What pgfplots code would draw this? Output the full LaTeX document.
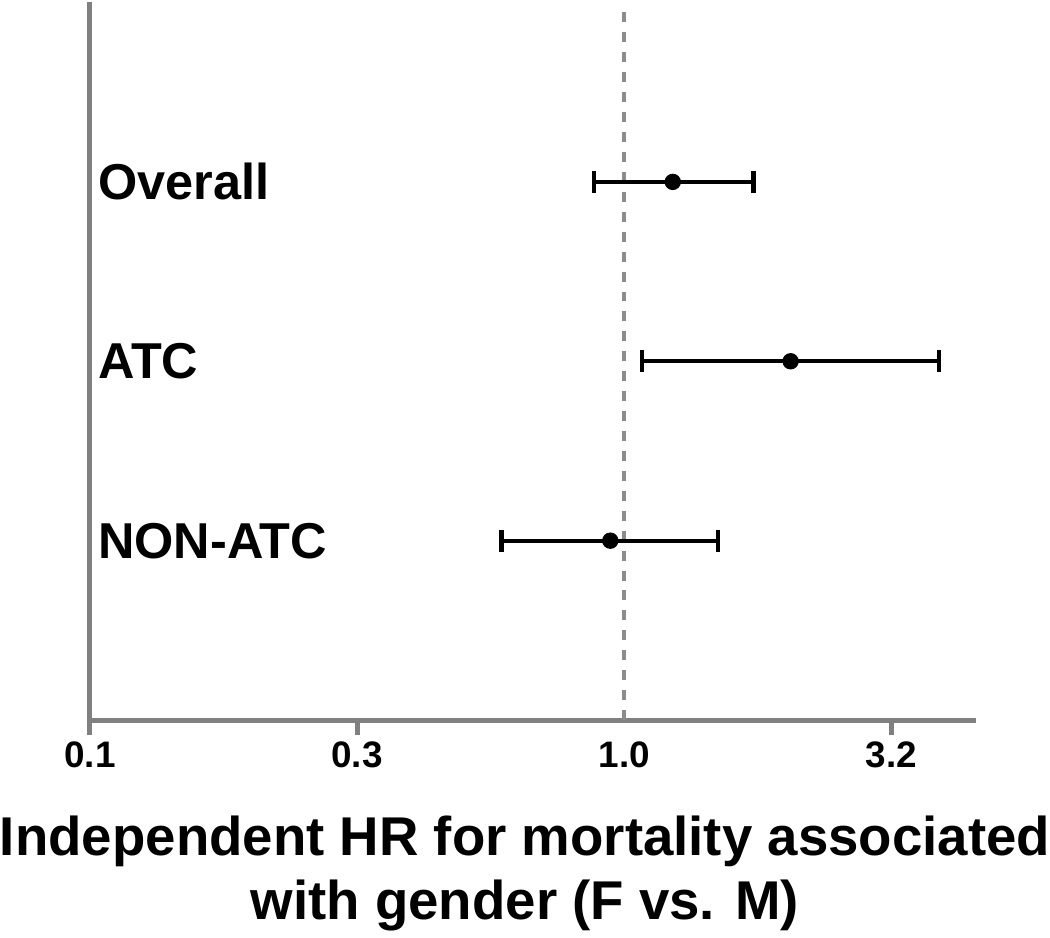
\documentclass[border=0pt]{standalone}
\usepackage{fontspec}
\setmainfont{Liberation Sans}
\usepackage{pgfplots}
\pgfplotsset{compat=1.18}
\definecolor{axisgray}{RGB}{128,128,128}
\definecolor{dashgray}{RGB}{140,140,140}

\begin{document}
\begin{tikzpicture}
\begin{axis}[
    scale only axis, width=444.5pt, height=360pt,
    xmode=log, xmin=0.1, xmax=4.556, ymin=0, ymax=4,
    axis x line=bottom, axis y line=left,
    axis line style={axisgray, line width=2.5pt, -},
    xtick={0.1,0.31623,3.1623}, xticklabels={0.1,0.3,3.2},
    extra x ticks={1}, extra x tick labels={1.0},
    extra x tick style={major tick style={draw=none}},
    ytick=\empty,
    tick align=outside, major tick length=7.5pt,
    tick style={axisgray, line width=2.5pt},
    /pgf/number format/assume math mode=true,
    xticklabel style={font=\fontsize{18.5}{22}\selectfont\bfseries},
    xlabel={Independent HR for mortality associated\\with gender (F vs. M)},
    xlabel style={font=\fontsize{27.4}{32}\selectfont\bfseries, align=center,
        inner xsep=0pt, xshift=-4pt, yshift=-2pt},
    clip=false,
]
\addplot[dashgray, line width=1.7pt, dash pattern=on 5pt off 5pt] coordinates {(1,0) (1,4)};
\addplot[black, only marks, mark=*, mark size=3.9pt,
    error bars/.cd, x dir=both, x explicit,
    error bar style={line width=2.1pt, black},
    error mark=|,
    error mark options={draw=black, line width=2.1pt, mark size=5.5pt}]
    coordinates {
    (1.233,3) -= (0.355,0) += (0.513,0)
    (2.049,2) -= (0.969,0) += (1.838,0)
    (0.942,1) -= (0.3525,0) += (0.555,0)
    };
\node[anchor=west, inner xsep=0pt, font=\fontsize{25.3}{30}\selectfont\bfseries] at (axis cs:0.1035,3) {Overall};
\node[anchor=west, inner xsep=0pt, font=\fontsize{25.3}{30}\selectfont\bfseries] at (axis cs:0.1035,2) {ATC};
\node[anchor=west, inner xsep=0pt, font=\fontsize{25.3}{30}\selectfont\bfseries] at (axis cs:0.1035,1) {NON-ATC};
\end{axis}
\end{tikzpicture}
\end{document}
